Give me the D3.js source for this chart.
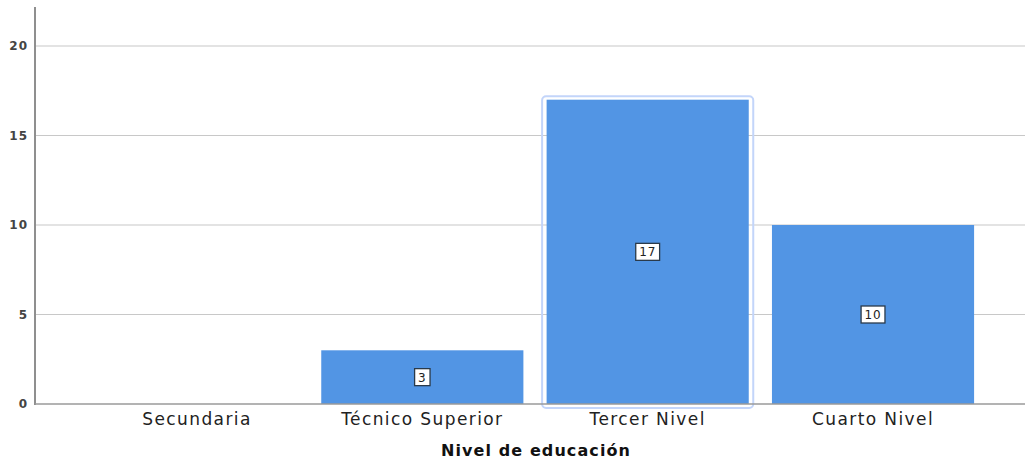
<!DOCTYPE html>
<html><head><meta charset="utf-8">
<script src="https://cdn.jsdelivr.net/npm/d3@7"></script>
<style>body{margin:0;background:#fff}svg{display:block}</style>
</head><body>
<svg id="c" width="1025" height="466"></svg>
<script>
const categories = ["Secundaria", "Técnico Superior", "Tercer Nivel", "Cuarto Nivel"];
const counts = [0, 3, 17, 10];
const yTicks = [0, 5, 10, 15, 20];
const xTitle = "Nivel de educación";
const highlighted = "Tercer Nivel";

const svg = d3.select("#c");
const axisX = 35, right = 1025, y0 = 404, yTop = 7;
const x = d3.scaleBand().domain(categories).range([84.3, 985.7]).paddingInner(0.103).paddingOuter(0.0515);
const y = d3.scaleLinear().domain([0, 20]).range([y0, 46]);
const font = "DejaVu Sans, sans-serif";

// gridlines
svg.append("g").selectAll("line").data(yTicks.filter(d => d > 0)).join("line")
  .attr("x1", axisX).attr("x2", right).attr("y1", d => y(d)).attr("y2", d => y(d))
  .attr("stroke", "#c8c8c8").attr("stroke-width", 1.2);

// y axis
const yAxis = svg.append("g").attr("transform", `translate(${axisX},0)`)
  .call(d3.axisLeft(y).tickValues(yTicks).tickSize(0).tickPadding(7));
yAxis.select(".domain").remove();
yAxis.selectAll("text").attr("font-family", font).attr("font-size", 12).attr("font-weight", "bold")
  .attr("letter-spacing", 1).attr("fill", "#444");
svg.append("line").attr("x1", axisX).attr("x2", axisX).attr("y1", yTop).attr("y2", y0 + 1)
  .attr("stroke", "#8f8f8f").attr("stroke-width", 2);

// bars
const bars = svg.append("g");
bars.selectAll("rect.bar").data(categories.map((c, i) => ({c, v: counts[i]})).filter(d => d.v > 0)).join("rect")
  .attr("class", "bar")
  .attr("x", d => x(d.c)).attr("width", x.bandwidth())
  .attr("y", d => y(d.v)).attr("height", d => y(0) - y(d.v))
  .attr("fill", "#5295e4");

// highlight frame
const hv = counts[categories.indexOf(highlighted)];
svg.append("rect").attr("x", x(highlighted) - 4.5).attr("y", y(hv) - 3.5)
  .attr("width", x.bandwidth() + 9).attr("height", y(0) - y(hv) + 7.5)
  .attr("rx", 4).attr("fill", "none").attr("stroke", "#c3d5fa").attr("stroke-width", 2);

// x baseline
svg.append("line").attr("x1", axisX).attr("x2", right).attr("y1", y0).attr("y2", y0)
  .attr("stroke", "#9a9a9a").attr("stroke-width", 1.5);

// value labels
const lab = svg.append("g");
categories.forEach((c, i) => {
  if (counts[i] <= 0) return;
  const cx = x(c) + x.bandwidth() / 2, cy = y(counts[i] / 2);
  const t = lab.append("text").attr("x", cx).attr("y", cy + 4.5).attr("text-anchor", "middle")
    .attr("font-family", font).attr("font-size", 12).attr("letter-spacing", 0.8).attr("fill", "#222").text(counts[i]);
  const w = t.node().getComputedTextLength();
  lab.insert("rect", "text").attr("x", cx - w / 2 - 3.5).attr("y", cy - 8.5).attr("width", w + 7).attr("height", 17)
    .attr("fill", "#fff").attr("stroke", "#2a3a4a").attr("stroke-width", 1.3);
});

// x axis labels
const xAxis = svg.append("g").attr("transform", `translate(0,${y0})`)
  .call(d3.axisBottom(x).tickSize(0).tickPadding(9));
xAxis.select(".domain").remove();
xAxis.selectAll("text").attr("font-family", font).attr("font-size", 17).attr("letter-spacing", 1.4).attr("fill", "#222");

// x title
svg.append("text").attr("x", (x.range()[0] + x.range()[1]) / 2 + 1).attr("y", 456).attr("text-anchor", "middle")
  .attr("font-family", font).attr("font-size", 16).attr("font-weight", "bold").attr("letter-spacing", 1.1)
  .attr("fill", "#111").text(xTitle);
</script>
</body></html>
